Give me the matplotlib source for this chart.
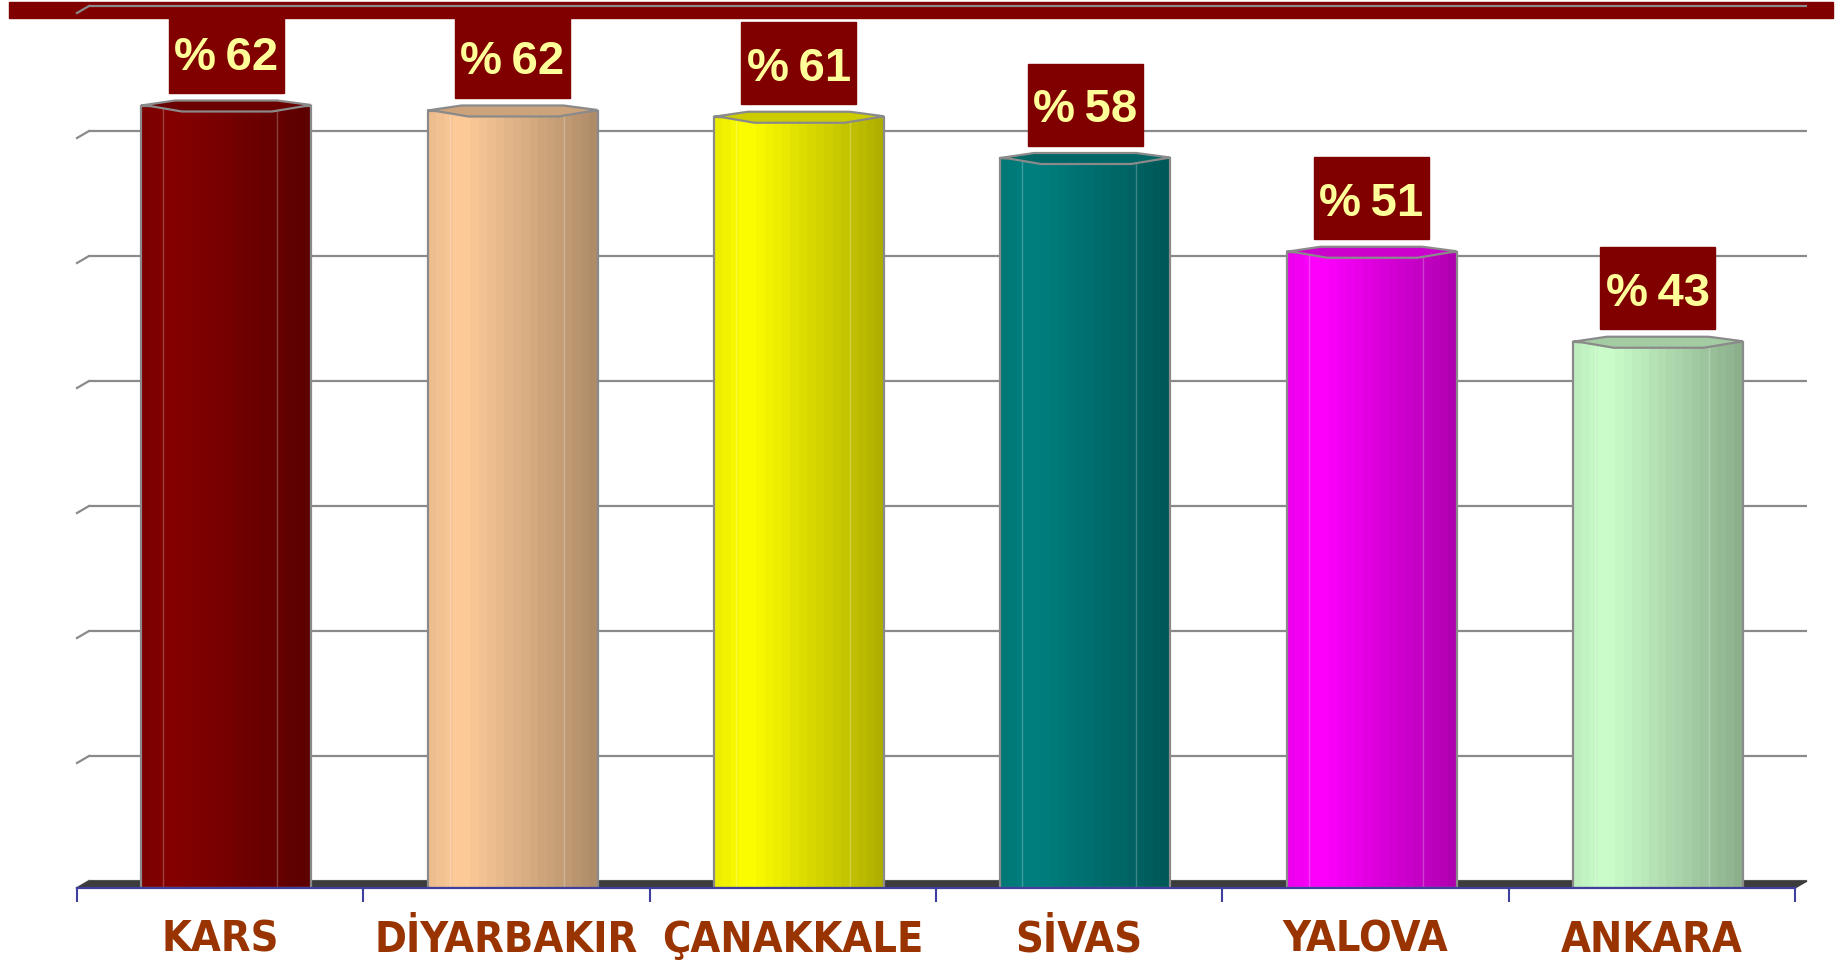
import numpy as np
import matplotlib
matplotlib.use("Agg")
import matplotlib.pyplot as plt
from matplotlib.patches import Rectangle, Polygon
from matplotlib.colors import to_rgb

cities = ["KARS", "DİYARBAKIR", "ÇANAKKALE", "SİVAS", "YALOVA", "ANKARA"]
values = [62.6, 62.2, 61.7, 58.4, 50.9, 43.7]
value_labels = ["%\u200962", "%\u200962", "%\u200961", "%\u200958", "%\u200951", "%\u200943"]
bar_colors = ["#860000", "#FFCC99", "#FFFF00", "#008080", "#FF00FF", "#CCFFCC"]

W, H = 1839, 960
fig = plt.figure(figsize=(W / 100, H / 100), dpi=100)

# axes placed so the front plane of the 3d chart maps straight to data
left_px, right_px, bottom_px, top_px = 77, 1795, 888, 13
ax = fig.add_axes([left_px / W, 1 - bottom_px / H,
                   (right_px - left_px) / W, (bottom_px - top_px) / H])
ax.patch.set_alpha(0)
px_x = 6 / (right_px - left_px)
px_y = 70 / (bottom_px - top_px)
dx, dy = 12 * px_x, 7 * px_y  # depth offset of the back wall

# dark red strip along the top of the slide (behind the axes)
fig.patches.append(Rectangle((9 / W, 1 - 18 / H), 1824 / W, 16 / H,
                             transform=fig.transFigure, color="#800000", zorder=-1))

# back wall gridlines with their little side slants
for g in range(0, 71, 10):
    ax.plot([-0.5 + dx, 5.5 + dx], [g + dy, g + dy], color="#8A8A8A", lw=1.6,
            zorder=1, clip_on=False, solid_capstyle="butt")
    ax.plot([-0.5, -0.5 + dx], [g, g + dy], color="#8A8A8A", lw=1.6,
            zorder=1, clip_on=False)

# floor
ax.add_patch(Polygon([(-0.5, 0), (5.5, 0), (5.5 + dx, dy), (-0.5 + dx, dy)],
                     closed=True, color="#3C3C3C", zorder=1.5, clip_on=False))

xpos = np.arange(len(cities)) + dx / 2
bw = 170 * px_x

bars = ax.bar(xpos, values, bw, color=bar_colors, zorder=2)
t = (np.arange(20) + 0.5) / 20
shade = np.where(t < 0.2, 0.92 + 0.08 * t / 0.2, 1 - 0.32 * (t - 0.2) / 0.8)
for bar, c in zip(bars, bar_colors):
    base = np.array(to_rgb(c))
    grad = np.clip(base[None, :] * shade[:, None], 0, 1)[None, :, :]
    x0, h = bar.get_x(), bar.get_height()
    im = ax.imshow(grad, extent=(x0, x0 + bw, 0, h), aspect="auto",
                   interpolation="nearest", zorder=2.2)
    im.set_clip_path(bar)
    # faint facet lines
    for f in (0.13, 0.8):
        ax.plot([x0 + f * bw] * 2, [0, h], color="white", alpha=0.25, lw=1, zorder=2.4)
    # cylinder lip on top
    cap = [(0, 0), (0.2, 5), (0.8, 5), (1.0, 0.5), (0.93, -1.5),
           (0.77, -6), (0.24, -6), (0.05, -0.5)]
    ax.add_patch(Polygon([(x0 + a * bw, h + b * px_y) for a, b in cap], closed=True,
                         facecolor=np.clip(base * 0.8, 0, 1), edgecolor="#8A8A8A",
                         lw=1.6, zorder=3.5, clip_on=False))

ax.bar(xpos, values, bw, fill=False, edgecolor="#8A8A8A", lw=1.6, zorder=3)

# value boxes
box_w, box_h = 115 * px_x, 82 * px_y
for x, v, lab in zip(xpos, values, value_labels):
    yb = v + 1.0
    ax.add_patch(Rectangle((x - box_w / 2, yb), box_w, box_h, color="#800000",
                           zorder=4, clip_on=False))
    ax.text(x, yb + box_h / 2 - 17.5 * px_y, lab, ha="center", va="baseline",
            color="#FFFF99", fontsize=34, fontweight="bold",
            family=["Liberation Sans", "DejaVu Sans"], zorder=5)

# category names
for i, name in enumerate(cities):
    ax.text(i, -64 * px_y, name, ha="center", va="baseline", fontsize=31,
            fontweight="bold", color="#993300", family="DejaVu Sans",
            fontstretch="condensed")

ax.set_xlim(-0.5, 5.5)
ax.set_ylim(0, 70)
ax.set_yticks([])
ax.set_xticks(np.arange(-0.5, 5.6, 1.0))
ax.set_xticklabels([])
ax.tick_params(axis="x", length=10, width=1.5, color="#3F3FA0", direction="out")
for s in ("top", "left", "right"):
    ax.spines[s].set_visible(False)
ax.spines["bottom"].set_color("#3F3FA0")
ax.spines["bottom"].set_linewidth(1.6)
ax.spines["bottom"].set_zorder(3.6)

fig.savefig("out.png", dpi=100, facecolor="white")
